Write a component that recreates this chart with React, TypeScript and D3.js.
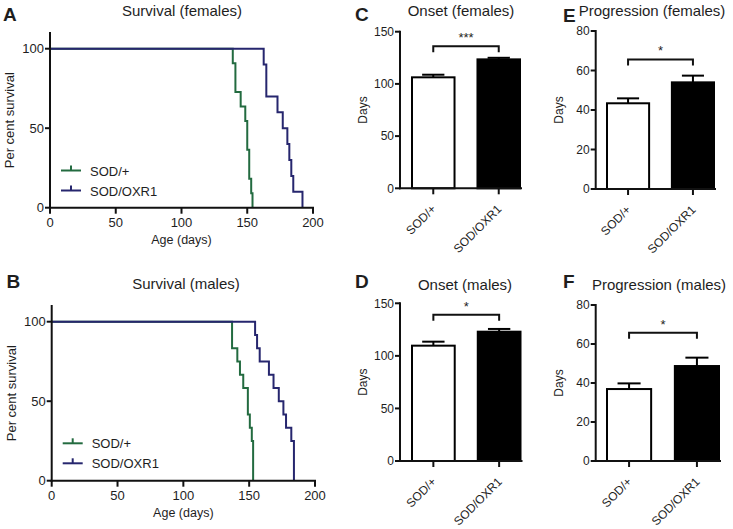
import React from "react";
import * as d3 from "d3";

// ---------- Data ----------
const ageTicks = [0, 50, 100, 150, 200];
const pctTicks = [0, 50, 100];
const groupNames = ["SOD/+", "SOD/OXR1"];

// Survival (females): event days and survival % after each event
const femSodDays = [139, 141, 145, 148.5, 150, 151.5, 153, 154];
const femSodPct = [90.9, 72.7, 63.6, 54.5, 36.4, 18.2, 9.1, 0];
const femOxrDays = [162.5, 164.5, 173, 177, 180.5, 182, 183.5, 185, 192];
const femOxrPct = [90, 70, 60, 50, 40, 30, 20, 10, 0];

// Survival (males)
const maleSodDays = [137, 141, 143, 145.5, 149, 150.5, 152, 153];
const maleSodPct = [83.3, 75, 66.7, 58.3, 41.7, 33.3, 25, 0];
const maleOxrDays = [154.5, 156, 158, 165, 168.5, 172.5, 176, 178, 182, 184];
const maleOxrPct = [91.7, 83.3, 75, 66.7, 58.3, 50, 41.7, 33.3, 25, 0];

// Bar panels (mean, SEM)
const onsetTicks = [0, 50, 100, 150];
const progTicks = [0, 20, 40, 60, 80];
const onsetFemMean = [106.3, 123.5];
const onsetFemSem = [2.5, 1.5];
const onsetMaleMean = [109.7, 123];
const onsetMaleSem = [3.8, 2.6];
const progFemMean = [43.4, 54];
const progFemSem = [2.5, 3.4];
const progMaleMean = [36.9, 48.7];
const progMaleSem = [2.9, 4.3];
const sigLabels = ["***", "*", "*", "*"];
const bracketLevels = [136, 139, 65.6, 65.8];

const GREEN = "#236b40";
const NAVY = "#26266e";
const TEXT = "#1e1e1e";
const FONT = "'Liberation Sans', Arial, sans-serif";

type Series = { days: number[]; pct: number[]; color: string; name: string };

function SurvivalPanel(props: {
  x0: number; x1: number; yBottom: number; yTop: number; axisTop: number;
  title: string; titleX: number; titleY: number;
  letter: string; letterX: number; letterY: number;
  series: Series[]; legendY: number; xLabelY: number;
}) {
  const { x0, x1, yBottom, yTop, axisTop, series } = props;
  const x = d3.scaleLinear().domain([0, 200]).range([x0, x1]);
  const y = d3.scaleLinear().domain([0, 100]).range([yBottom, yTop]);
  const line = d3
    .line<[number, number]>()
    .x((d) => x(d[0]))
    .y((d) => y(d[1]))
    .curve(d3.curveStepAfter);
  return (
    <g fontFamily={FONT} fill={TEXT}>
      <text x={props.letterX} y={props.letterY} fontSize={19} fontWeight="bold">
        {props.letter}
      </text>
      <text x={props.titleX} y={props.titleY} fontSize={15} textAnchor="middle">
        {props.title}
      </text>
      {series.map((s) => {
        const pts: [number, number][] = [[0, 100]];
        s.days.forEach((d, i) => pts.push([d, s.pct[i]]));
        return (
          <path key={s.name} d={line(pts) || ""} fill="none" stroke={s.color} strokeWidth={2} />
        );
      })}
      {/* axes */}
      <line x1={x0} x2={x0} y1={axisTop} y2={yBottom + 1} stroke="#111" strokeWidth={2} />
      <line x1={x0 - 1} x2={x1 + 1} y1={yBottom} y2={yBottom} stroke="#111" strokeWidth={2} />
      {pctTicks.map((t) => (
        <g key={"y" + t}>
          <line x1={x0 - 5} x2={x0} y1={y(t)} y2={y(t)} stroke="#111" strokeWidth={2} />
          <text x={x0 - 6} y={y(t) + 4.5} fontSize={13} textAnchor="end">
            {t}
          </text>
        </g>
      ))}
      {ageTicks.map((t) => (
        <g key={"x" + t}>
          <line x1={x(t)} x2={x(t)} y1={yBottom} y2={yBottom + 6} stroke="#111" strokeWidth={2} />
          <text x={x(t)} y={yBottom + 19.5} fontSize={13} textAnchor="middle">
            {t}
          </text>
        </g>
      ))}
      <text x={(x0 + x1) / 2} y={props.xLabelY} fontSize={12.5} textAnchor="middle">
        Age (days)
      </text>
      <text
        transform={`translate(${x0 - 36},${(yTop + yBottom) / 2 - 8}) rotate(-90)`}
        fontSize={13}
        textAnchor="middle"
      >
        Per cent survival
      </text>
      {/* legend */}
      {series.map((s, i) => {
        const ly = props.legendY + i * 20;
        return (
          <g key={"lg" + s.name}>
            <line x1={x0 + 11} x2={x0 + 31} y1={ly} y2={ly} stroke={s.color} strokeWidth={2} />
            <line x1={x0 + 21} x2={x0 + 21} y1={ly - 5} y2={ly} stroke={s.color} strokeWidth={2} />
            <text x={x0 + 40} y={ly + 5} fontSize={13}>
              {s.name}
            </text>
          </g>
        );
      })}
    </g>
  );
}

function BarPanel(props: {
  axisX: number; barStart: number; barEnd: number; y0: number; yMax: number;
  domainMax: number; ticks: number[]; mean: number[]; sem: number[];
  bracket: number; sig: string;
  title: string; titleX: number; titleY: number;
  letter: string; letterX: number; letterY: number;
}) {
  const { axisX, barStart, barEnd, y0, yMax, mean, sem } = props;
  const xb = d3.scaleBand<string>().domain(groupNames).range([barStart, barEnd]).paddingInner(0.32).paddingOuter(0);
  const y = d3.scaleLinear().domain([0, props.domainMax]).range([y0, yMax]);
  const bw = xb.bandwidth();
  const cx = (g: string) => (xb(g) as number) + bw / 2;
  const by = y(props.bracket);
  return (
    <g fontFamily={FONT} fill={TEXT}>
      <text x={props.letterX} y={props.letterY} fontSize={19} fontWeight="bold">
        {props.letter}
      </text>
      <text x={props.titleX} y={props.titleY} fontSize={15} textAnchor="middle">
        {props.title}
      </text>
      {groupNames.map((g, i) => {
        const top = y(mean[i]);
        const et = y(mean[i] + sem[i]);
        const c = cx(g);
        return (
          <g key={g}>
            <line x1={c} x2={c} y1={top} y2={et} stroke="#000" strokeWidth={2} />
            <line x1={c - bw / 4} x2={c + bw / 4} y1={et} y2={et} stroke="#000" strokeWidth={2} />
            <rect
              x={(xb(g) as number) + 1}
              y={top}
              width={bw - 2}
              height={y0 - top}
              fill={i === 0 ? "#fff" : "#000"}
              stroke="#000"
              strokeWidth={2}
            />
          </g>
        );
      })}
      {/* significance */}
      <path
        d={`M${cx(groupNames[0])},${by + 6}V${by}H${cx(groupNames[1])}V${by + 6}`}
        fill="none"
        stroke="#111"
        strokeWidth={2}
      />
      <text x={(cx(groupNames[0]) + cx(groupNames[1])) / 2} y={by - 4} fontSize={13} textAnchor="middle">
        {props.sig}
      </text>
      {/* axes */}
      <line x1={axisX} x2={axisX} y1={yMax - 1} y2={y0 + 1} stroke="#111" strokeWidth={2} />
      <line x1={axisX - 1} x2={barEnd + 1} y1={y0} y2={y0} stroke="#111" strokeWidth={2} />
      {props.ticks.map((t) => (
        <g key={t}>
          <line x1={axisX - 5} x2={axisX} y1={y(t)} y2={y(t)} stroke="#111" strokeWidth={2} />
          <text x={axisX - 6} y={y(t) + 4.3} fontSize={12} textAnchor="end">
            {t}
          </text>
        </g>
      ))}
      {groupNames.map((g) => (
        <g key={"xt" + g}>
          <line x1={cx(g)} x2={cx(g)} y1={y0} y2={y0 + 6} stroke="#111" strokeWidth={2} />
          <text
            transform={`translate(${cx(g) + 3.5},${y0 + 21.5}) rotate(-45)`}
            fontSize={12}
            textAnchor="end"
          >
            {g}
          </text>
        </g>
      ))}
      <text
        transform={`translate(${axisX - 33},${(y0 + yMax) / 2}) rotate(-90)`}
        fontSize={12}
        textAnchor="middle"
      >
        Days
      </text>
    </g>
  );
}

export default function App() {
  return (
    <svg
      width={733}
      height={529}
      viewBox="0 0 733 529"
      style={{ position: "absolute", left: 0, top: 0, background: "#fff" }}
    >
      <rect width={733} height={529} fill="#fff" />
      <SurvivalPanel
        x0={50} x1={313} yBottom={207.7} yTop={48.7} axisTop={32}
        title="Survival (females)" titleX={182} titleY={15.5}
        letter="A" letterX={3} letterY={20.7}
        legendY={170.5} xLabelY={244}
        series={[
          { days: femSodDays, pct: femSodPct, color: GREEN, name: "SOD/+" },
          { days: femOxrDays, pct: femOxrPct, color: NAVY, name: "SOD/OXR1" },
        ]}
      />
      <SurvivalPanel
        x0={51.7} x1={315} yBottom={480.7} yTop={321.7} axisTop={305}
        title="Survival (males)" titleX={186} titleY={289}
        letter="B" letterX={6.5} letterY={288}
        legendY={443.3} xLabelY={517}
        series={[
          { days: maleSodDays, pct: maleSodPct, color: GREEN, name: "SOD/+" },
          { days: maleOxrDays, pct: maleOxrPct, color: NAVY, name: "SOD/OXR1" },
        ]}
      />
      <BarPanel
        axisX={400} barStart={411} barEnd={521} y0={188.3} yMax={31.7}
        domainMax={150} ticks={onsetTicks} mean={onsetFemMean} sem={onsetFemSem}
        bracket={bracketLevels[0]} sig={sigLabels[0]}
        title="Onset (females)" titleX={461} titleY={15.5}
        letter="C" letterX={355} letterY={20.7}
      />
      <BarPanel
        axisX={400} barStart={411} barEnd={521.5} y0={461} yMax={303.3}
        domainMax={150} ticks={onsetTicks} mean={onsetMaleMean} sem={onsetMaleSem}
        bracket={bracketLevels[1]} sig={sigLabels[1]}
        title="Onset (males)" titleX={465} titleY={289.5}
        letter="D" letterX={355} letterY={288.3}
      />
      <BarPanel
        axisX={595.7} barStart={606} barEnd={715} y0={189} yMax={31}
        domainMax={80} ticks={progTicks} mean={progFemMean} sem={progFemSem}
        bracket={bracketLevels[2]} sig={sigLabels[2]}
        title="Progression (females)" titleX={652} titleY={15.5}
        letter="E" letterX={563} letterY={21.5}
        />
      <BarPanel
        axisX={595.7} barStart={606} barEnd={720} y0={461} yMax={305}
        domainMax={80} ticks={progTicks} mean={progMaleMean} sem={progMaleSem}
        bracket={bracketLevels[3]} sig={sigLabels[3]}
        title="Progression (males)" titleX={659} titleY={289.5}
        letter="F" letterX={563} letterY={288.3}
      />
    </svg>
  );
}
